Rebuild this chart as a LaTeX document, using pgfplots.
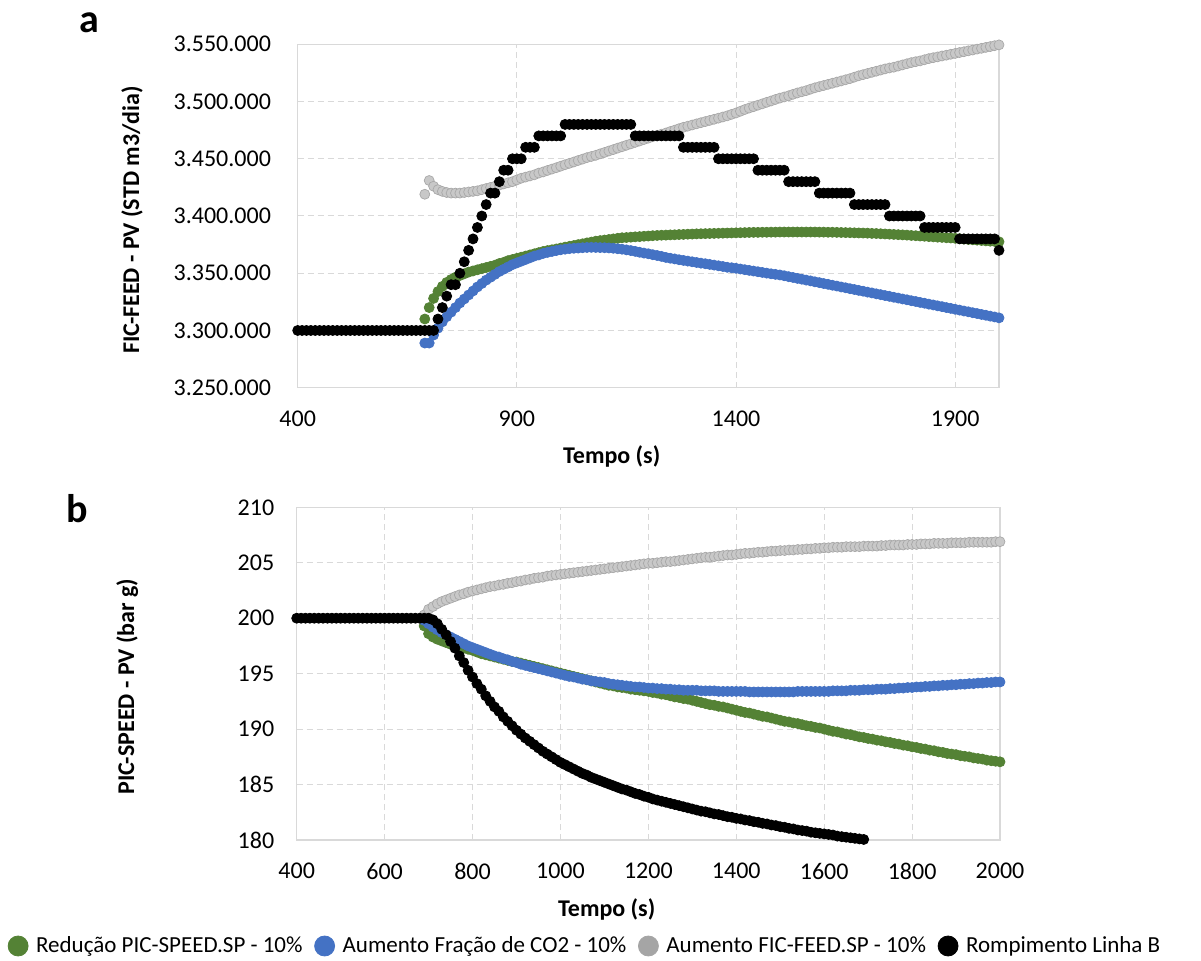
\documentclass[border=0pt]{standalone}
\usepackage{fontspec}
\setmainfont{Carlito}
\usepackage{pgfplots}
\usepackage{pgfplotstable}
\pgfplotsset{compat=1.18}

\definecolor{cgreen}{RGB}{84,130,53}
\definecolor{cblue}{RGB}{68,114,196}
\definecolor{cgray}{RGB}{200,200,200}
\definecolor{cgrayedge}{RGB}{168,168,168}
\definecolor{cgraylg}{RGB}{165,165,165}
\definecolor{cgrid}{RGB}{217,217,217}

% top panel: x, green, blue, gray (thousands of STD m3/dia)
\pgfplotstableread{
x g b gr
690 3310 3289 3419
700 3320 3289 3431
710 3328 3296 3426
720 3334 3302 3423
730 3338.5 3307.5 3421.5
740 3342 3312 3420.5
750 3344.5 3316 3420
760 3346.5 3320 3420
770 3348 3324 3420
780 3349.5 3327.5 3420.5
790 3351 3331 3421
800 3352 3334.5 3421.5
810 3353 3338 3422
820 3354 3341 3423
830 3355 3344 3424
840 3356 3346.5 3425
850 3357 3349 3426
860 3358.5 3351.5 3427
870 3359.5 3353.5 3428
880 3361 3355.5 3429
890 3362 3357.5 3430
900 3363 3359 3431.5
910 3364 3360.5 3433
920 3365 3362 3434
930 3366 3363.5 3435
940 3367 3365 3436
950 3368 3366 3437.5
960 3369 3367.3 3438.5
970 3369.8 3368.2 3439.8
980 3370.5 3369 3441
990 3371.2 3369.8 3442.2
1000 3372 3370.5 3443.5
1010 3372.8 3371 3444.8
1020 3373.5 3371.5 3446
1030 3374.2 3371.8 3447.2
1040 3375 3372 3448.5
1050 3375.7 3372.3 3449.7
1060 3376.5 3372.5 3451
1070 3377.2 3372.6 3452
1080 3378 3372.5 3453
1090 3378.5 3372.4 3454.3
1100 3379 3372.3 3455.5
1110 3379.5 3372.1 3456.8
1120 3380 3371.8 3458
1130 3380.5 3371.4 3459.3
1140 3381 3371 3460.5
1150 3381.2 3370.4 3461.8
1160 3381.5 3369.8 3463
1170 3381.8 3369.1 3464.3
1180 3382 3368.3 3465.5
1190 3382.3 3367.6 3466.8
1200 3382.5 3367 3468
1210 3382.8 3366.2 3469.3
1220 3383 3365.5 3470.5
1230 3383.2 3364.7 3471.5
1240 3383.3 3363.8 3472.5
1250 3383.5 3363.1 3473.8
1260 3383.6 3362.5 3475
1270 3383.8 3361.8 3476.3
1280 3383.9 3361.2 3477.5
1290 3384.1 3360.6 3478.5
1300 3384.2 3360 3479.5
1310 3384.4 3359.4 3480.5
1320 3384.5 3358.8 3481.5
1330 3384.6 3358.3 3482.5
1340 3384.7 3357.7 3483.5
1350 3384.8 3357.1 3484.5
1360 3384.9 3356.5 3485.5
1370 3385 3355.9 3486.5
1380 3385.1 3355.2 3487.5
1390 3385.2 3354.8 3488.8
1400 3385.3 3354.3 3490
1410 3385.4 3353.7 3491.5
1420 3385.5 3353.1 3493
1430 3385.6 3352.5 3494.3
1440 3385.7 3351.9 3495.5
1450 3385.7 3351.3 3496.8
1460 3385.8 3350.7 3498
1470 3385.8 3350.1 3499.3
1480 3385.9 3349.5 3500.5
1490 3385.9 3349 3501.8
1500 3386 3348.5 3503
1510 3386 3347.8 3504
1520 3386 3347 3505
1530 3386 3346.3 3506.3
1540 3386 3345.5 3507.5
1550 3386 3344.8 3508.5
1560 3386 3344 3509.5
1570 3386 3343.3 3510.8
1580 3386 3342.5 3512
1590 3385.9 3341.8 3513
1600 3385.9 3341 3514
1610 3385.8 3340.3 3515
1620 3385.8 3339.5 3516
1630 3385.7 3338.8 3517
1640 3385.6 3338 3518
1650 3385.5 3337.3 3519
1660 3385.4 3336.5 3520
1670 3385.3 3335.8 3521.3
1680 3385.2 3335 3522.5
1690 3385.1 3334.3 3523.5
1700 3385 3333.5 3524.5
1710 3384.8 3332.8 3525.5
1720 3384.7 3332 3526.5
1730 3384.5 3331.3 3527.5
1740 3384.3 3330.5 3528.5
1750 3384.1 3329.8 3529.3
1760 3383.9 3329 3530
1770 3383.7 3328.3 3531
1780 3383.5 3327.5 3532
1790 3383.3 3326.8 3533
1800 3383 3326 3534
1810 3382.8 3325.3 3534.8
1820 3382.5 3324.5 3535.5
1830 3382.3 3323.8 3536.5
1840 3382 3323 3537.5
1850 3381.8 3322.3 3538.3
1860 3381.5 3321.5 3539
1870 3381.3 3320.8 3539.8
1880 3381 3320 3540.5
1890 3380.8 3319.3 3541.3
1900 3380.5 3318.5 3542
1910 3380.2 3317.8 3542.8
1920 3379.8 3317 3543.5
1930 3379.5 3316.3 3544.3
1940 3379.2 3315.5 3545
1950 3378.9 3314.8 3545.8
1960 3378.6 3314 3546.5
1970 3378.3 3313.3 3547.3
1980 3378 3312.5 3548
1990 3377.8 3311.8 3548.8
2000 3377.5 3311 3549.5
}\toptab

% bottom panel: x, green, blue, gray (bar g)
\pgfplotstableread{
x g b gr
690 199.3 199.8 200.3
700 198.6 199.5 200.8
710 198.3 199.2 201.05
720 198.1 198.95 201.3
730 197.95 198.7 201.5
740 197.8 198.5 201.65
750 197.65 198.3 201.8
760 197.5 198.1 201.95
770 197.4 197.9 202.1
780 197.3 197.7 202.2
790 197.2 197.5 202.35
800 197.1 197.35 202.45
810 196.95 197.2 202.55
820 196.8 197.05 202.65
830 196.7 196.9 202.75
840 196.6 196.75 202.85
850 196.5 196.6 202.9
860 196.4 196.5 203.0
870 196.3 196.35 203.05
880 196.2 196.25 203.15
890 196.1 196.1 203.2
900 196.05 196.0 203.3
910 195.95 195.85 203.35
920 195.85 195.75 203.45
930 195.75 195.65 203.5
940 195.65 195.55 203.6
950 195.55 195.45 203.65
960 195.45 195.35 203.7
970 195.35 195.25 203.8
980 195.25 195.15 203.85
990 195.15 195.05 203.9
1000 195.05 194.95 203.95
1010 194.95 194.85 204.0
1020 194.85 194.75 204.05
1030 194.75 194.7 204.1
1040 194.65 194.6 204.15
1050 194.55 194.5 204.2
1060 194.45 194.45 204.25
1070 194.35 194.35 204.3
1080 194.25 194.3 204.35
1090 194.15 194.25 204.4
1100 194.05 194.2 204.45
1110 193.95 194.1 204.5
1120 193.9 194.05 204.55
1130 193.8 194.0 204.6
1140 193.75 193.95 204.65
1150 193.7 193.9 204.7
1160 193.6 193.85 204.75
1170 193.55 193.8 204.8
1180 193.5 193.8 204.85
1190 193.45 193.75 204.9
1200 193.4 193.7 204.95
1210 193.3 193.7 204.95
1220 193.25 193.65 205.0
1230 193.15 193.65 205.05
1240 193.1 193.6 205.1
1250 193.0 193.6 205.1
1260 192.9 193.55 205.15
1270 192.85 193.55 205.2
1280 192.75 193.5 205.25
1290 192.7 193.5 205.3
1300 192.6 193.5 205.35
1310 192.5 193.5 205.4
1320 192.4 193.45 205.45
1330 192.3 193.45 205.5
1340 192.2 193.45 205.5
1350 192.15 193.45 205.55
1360 192.05 193.4 205.6
1370 192.0 193.4 205.65
1380 191.9 193.4 205.7
1390 191.8 193.4 205.7
1400 191.7 193.4 205.75
1410 191.6 193.4 205.8
1420 191.5 193.4 205.85
1430 191.45 193.35 205.85
1440 191.35 193.35 205.9
1450 191.25 193.35 205.95
1460 191.15 193.35 205.95
1470 191.1 193.35 206.0
1480 191.0 193.35 206.05
1490 190.9 193.35 206.05
1500 190.8 193.35 206.1
1510 190.7 193.35 206.1
1520 190.65 193.35 206.15
1530 190.55 193.35 206.15
1540 190.5 193.4 206.2
1550 190.4 193.4 206.2
1560 190.3 193.4 206.25
1570 190.25 193.4 206.25
1580 190.15 193.4 206.3
1590 190.1 193.4 206.3
1600 190.0 193.4 206.35
1610 189.9 193.4 206.35
1620 189.8 193.45 206.4
1630 189.75 193.45 206.4
1640 189.65 193.45 206.4
1650 189.55 193.45 206.45
1660 189.5 193.5 206.45
1670 189.4 193.5 206.45
1680 189.3 193.5 206.45
1690 189.25 193.55 206.5
1700 189.15 193.55 206.5
1710 189.1 193.55 206.5
1720 189.0 193.6 206.5
1730 188.95 193.6 206.55
1740 188.85 193.6 206.55
1750 188.8 193.65 206.6
1760 188.7 193.65 206.6
1770 188.65 193.7 206.6
1780 188.55 193.7 206.6
1790 188.5 193.75 206.65
1800 188.4 193.75 206.65
1810 188.35 193.8 206.65
1820 188.25 193.8 206.7
1830 188.2 193.85 206.7
1840 188.1 193.85 206.7
1850 188.05 193.9 206.75
1860 187.95 193.9 206.75
1870 187.9 193.95 206.75
1880 187.8 193.95 206.75
1890 187.75 194.0 206.8
1900 187.7 194.0 206.8
1910 187.6 194.05 206.8
1920 187.55 194.05 206.8
1930 187.5 194.1 206.85
1940 187.4 194.1 206.85
1950 187.35 194.15 206.85
1960 187.3 194.15 206.85
1970 187.2 194.2 206.85
1980 187.15 194.2 206.85
1990 187.1 194.25 206.9
2000 187.05 194.25 206.9
}\bottab

\pgfplotsset{
  panel/.style={
    scale only axis, anchor=south west, clip=false,
    xmin=400, xmax=2000,
    axis line style={cgrid, line width=0.75pt},
    grid=major,
    major grid style={cgrid, line width=0.5pt, dash pattern=on 3pt off 2pt},
    major tick length=0pt,
    tick label style={font=\fontsize{12}{14}\selectfont, text=black},
    xticklabel style={yshift=-8pt},
  },
  dot/.style={only marks, mark=*, mark size=2.5pt, color=#1,
    legend image code/.code={\fill[#1] (0pt,0pt) circle (5pt);}},
}

\begin{document}
\begin{tikzpicture}
\path[use as bounding box] (0pt,0pt) rectangle (600.5pt,480pt);

% ---- a ----
\begin{axis}[panel,
    at={(148.85pt,286.15pt)}, width=350.65pt, height=171.7pt,
    ymin=3250, ymax=3550,
    xtick={400,900,1400,1900}, xticklabels={400,900,1400,1900},
    ytick={3250,3300,3350,3400,3450,3500,3550},
    yticklabels={3.250.000,3.300.000,3.350.000,3.400.000,3.450.000,3.500.000,3.550.000},
    yticklabel style={xshift=-9.85pt},
]
\addplot[dot=cgreen] table[x=x, y=g] {\toptab};
\addplot[dot=cblue] table[x=x, y=b] {\toptab};
\addplot[dot=cgray, mark options={fill=cgray, draw=cgrayedge, line width=0.35pt}] table[x=x, y=gr] {\toptab};
\addplot[dot=black] coordinates {
(400,3300) (410,3300) (420,3300) (430,3300) (440,3300) (450,3300) (460,3300) (470,3300)
(480,3300) (490,3300) (500,3300) (510,3300) (520,3300) (530,3300) (540,3300) (550,3300)
(560,3300) (570,3300) (580,3300) (590,3300) (600,3300) (610,3300) (620,3300) (630,3300)
(640,3300) (650,3300) (660,3300) (670,3300) (680,3300) (690,3300) (700,3300) (710,3300)
(720,3310) (730,3320) (740,3330) (750,3340) (760,3340) (770,3350) (780,3360) (790,3370)
(800,3380) (810,3390) (820,3400) (830,3410) (840,3420) (850,3420) (860,3430) (870,3440)
(880,3440) (890,3450) (900,3450) (910,3450) (920,3460) (930,3460) (940,3460)
(950,3470) (960,3470) (970,3470) (980,3470) (990,3470) (1000,3470)
(1010,3480) (1020,3480) (1030,3480) (1040,3480) (1050,3480) (1060,3480) (1070,3480) (1080,3480)
(1090,3480) (1100,3480) (1110,3480) (1120,3480) (1130,3480) (1140,3480) (1150,3480) (1160,3480)
(1170,3470) (1180,3470) (1190,3470) (1200,3470) (1210,3470) (1220,3470) (1230,3470) (1240,3470)
(1250,3470) (1260,3470) (1270,3470)
(1280,3460) (1290,3460) (1300,3460) (1310,3460) (1320,3460) (1330,3460) (1340,3460) (1350,3460)
(1360,3450) (1370,3450) (1380,3450) (1390,3450) (1400,3450) (1410,3450) (1420,3450) (1430,3450) (1440,3450)
(1450,3440) (1460,3440) (1470,3440) (1480,3440) (1490,3440) (1500,3440) (1510,3440)
(1520,3430) (1530,3430) (1540,3430) (1550,3430) (1560,3430) (1570,3430) (1580,3430)
(1590,3420) (1600,3420) (1610,3420) (1620,3420) (1630,3420) (1640,3420) (1650,3420) (1660,3420)
(1670,3410) (1680,3410) (1690,3410) (1700,3410) (1710,3410) (1720,3410) (1730,3410) (1740,3410)
(1750,3400) (1760,3400) (1770,3400) (1780,3400) (1790,3400) (1800,3400) (1810,3400) (1820,3400)
(1830,3390) (1840,3390) (1850,3390) (1860,3390) (1870,3390) (1880,3390) (1890,3390) (1900,3390)
(1910,3380) (1920,3380) (1930,3380) (1940,3380) (1950,3380) (1960,3380) (1970,3380) (1980,3380) (1990,3380)
(2000,3370)
};
\end{axis}

% ---- b ----
\begin{axis}[panel,
    at={(148.35pt,60pt)}, width=351.65pt, height=166.35pt,
    ymin=180, ymax=210,
    xtick={400,600,...,2000},
    xticklabels={400,600,800,1000,1200,1400,1600,1800,2000},
    ytick={180,185,...,210},
    yticklabels={180,185,190,195,200,205,210},
    yticklabel style={xshift=-7.7pt},
    legend columns=4,
    legend style={at={(-0.42,-0.3186)}, anchor=west, draw=none, fill=none,
      font=\fontsize{11.5}{14}\selectfont,
      /tikz/every odd column/.append style={column sep=1.8pt},
      /tikz/every even column/.append style={column sep=3.8pt}},
]
\addplot[dot=cgreen] table[x=x, y=g] {\bottab};
\addlegendentry{Redução PIC-SPEED.SP - 10\%}
\addplot[dot=cblue] table[x=x, y=b] {\bottab};
\addlegendentry{Aumento Fração de CO2 - 10\%}
\addplot[dot=cgray, mark options={fill=cgray, draw=cgrayedge, line width=0.35pt},
  legend image code/.code={\fill[cgraylg] (0pt,0pt) circle (5pt);}] table[x=x, y=gr] {\bottab};
\addlegendentry{Aumento FIC-FEED.SP - 10\%}
\addplot[dot=black] coordinates {
(400,200) (410,200) (420,200) (430,200) (440,200) (450,200) (460,200) (470,200)
(480,200) (490,200) (500,200) (510,200) (520,200) (530,200) (540,200) (550,200)
(560,200) (570,200) (580,200) (590,200) (600,200) (610,200) (620,200) (630,200)
(640,200) (650,200) (660,200) (670,200) (680,200) (690,200) (700,200)
(710,199.85) (720,199.5) (730,199.0) (740,198.5) (750,197.9) (760,197.3) (770,196.6)
(780,196.0) (790,195.3) (800,194.7) (810,194.1) (820,193.6) (830,193.0) (840,192.5)
(850,192.0) (860,191.6) (870,191.1) (880,190.7) (890,190.3) (900,189.9) (910,189.55)
(920,189.2) (930,188.9) (940,188.6) (950,188.3) (960,188.0) (970,187.75) (980,187.5)
(990,187.25) (1000,187.0) (1010,186.8) (1020,186.6) (1030,186.4) (1040,186.2) (1050,186.0)
(1060,185.85) (1070,185.65) (1080,185.5) (1090,185.35) (1100,185.2) (1110,185.05) (1120,184.9)
(1130,184.75) (1140,184.6) (1150,184.5) (1160,184.35) (1170,184.2) (1180,184.1) (1190,183.95)
(1200,183.85) (1210,183.7) (1220,183.6) (1230,183.5) (1240,183.4) (1250,183.3) (1260,183.2)
(1270,183.1) (1280,183.0) (1290,182.9) (1300,182.8) (1310,182.7) (1320,182.6) (1330,182.55)
(1340,182.45) (1350,182.35) (1360,182.3) (1370,182.2) (1380,182.1) (1390,182.05) (1400,181.95)
(1410,181.9) (1420,181.8) (1430,181.75) (1440,181.65) (1450,181.6) (1460,181.5) (1470,181.45)
(1480,181.35) (1490,181.3) (1500,181.2) (1510,181.15) (1520,181.05) (1530,181.0) (1540,180.9)
(1550,180.85) (1560,180.8) (1570,180.7) (1580,180.65) (1590,180.6) (1600,180.55) (1610,180.5)
(1620,180.45) (1630,180.35) (1640,180.3) (1650,180.25) (1660,180.2) (1670,180.15) (1680,180.1)
(1690,180.05)
};
\addlegendentry{Rompimento Linha B}
\end{axis}

% panel letters and axis titles
\node[anchor=base west, inner sep=0pt, font=\fontsize{20}{24}\selectfont\bfseries] at (39.5pt,463.5pt) {a};
\node[anchor=base west, inner sep=0pt, font=\fontsize{20}{24}\selectfont\bfseries] at (33.3pt,218.5pt) {b};
\node[anchor=base, inner sep=0pt, font=\fontsize{12}{14}\selectfont\bfseries] at (305.85pt,248.35pt) {Tempo (s)};
\node[anchor=base, inner sep=0pt, font=\fontsize{12}{14}\selectfont\bfseries] at (303.35pt,22pt) {Tempo (s)};
\node[anchor=base, rotate=90, inner sep=0pt, font=\fontsize{12}{14}\selectfont\bfseries] at (69.5pt,370pt) {FIC-FEED - PV (STD m3/dia)};
\node[anchor=base, rotate=90, inner sep=0pt, font=\fontsize{12}{14}\selectfont\bfseries] at (67pt,136.65pt) {PIC-SPEED - PV (bar g)};
\end{tikzpicture}
\end{document}
